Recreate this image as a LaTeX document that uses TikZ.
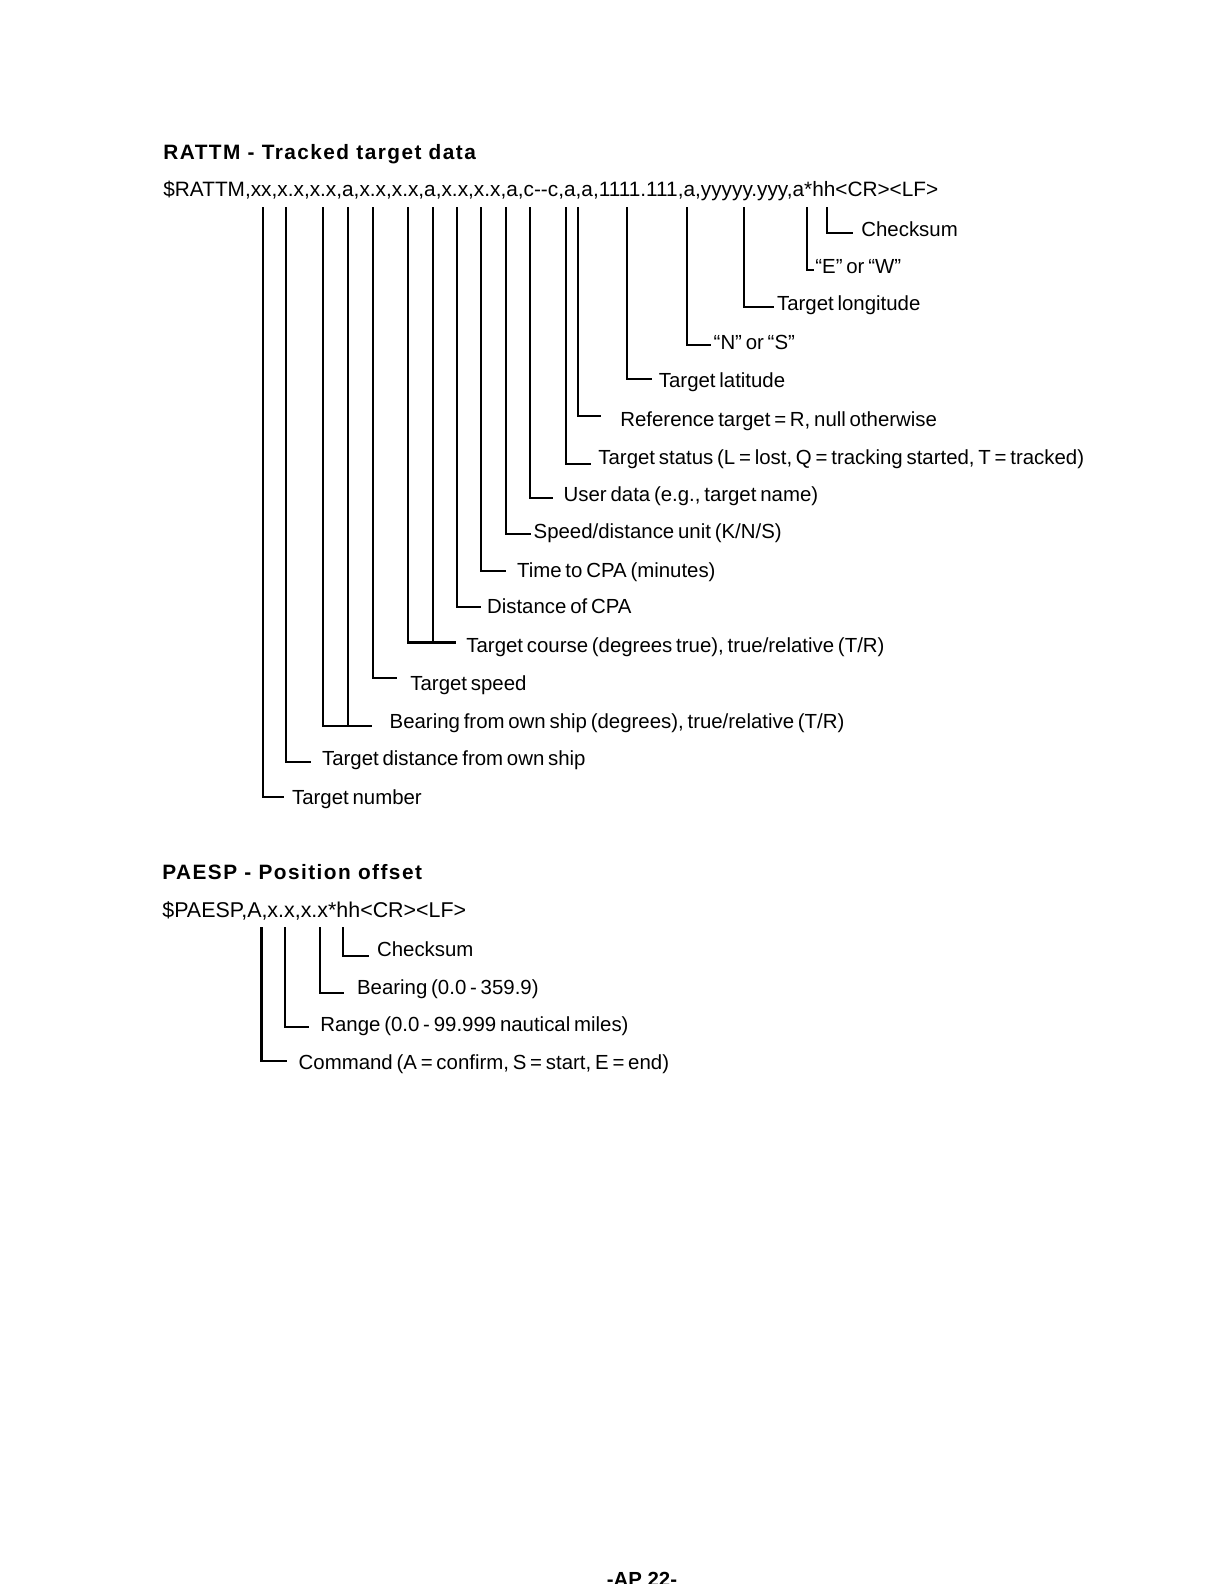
\documentclass[tikz,border=0pt]{standalone}
\usepackage{fontspec}
\setmainfont{Liberation Sans}
\newfontfamily\titlefont{Liberation Sans}[LetterSpace=7]
\newcommand\lblfont{\fontsize{10.2}{12}\selectfont\spaceskip 1.9pt plus 0.5pt\relax}
\begin{document}
\begin{tikzpicture}[x=0.5pt,y=-0.5pt,
  lbl/.style={anchor=west, inner sep=0pt, font=\lblfont},
  sent/.style={anchor=west, inner sep=0pt, font=\fontsize{10.4}{12}\selectfont},
  ttl/.style={anchor=west, inner sep=0pt, font=\fontsize{10.4}{12}\selectfont\titlefont\bfseries},
  lead/.style={line width=1.1pt, line cap=rect}]
\useasboundingbox (0,0) rectangle (1224,1584);

% ---------- RATTM ----------
\node[ttl] (t1) at (163,154) {RATTM - Tracked target data};
\node[sent] (s1) at (163,191) {\$RATTM,xx,x.x,x.x,a,x.x,x.x,a,x.x,x.x,a,c{-}{-}c,a,a,1111.111,a,yyyyy.yyy,a*hh<CR><LF>};

\node[lbl] (chk) at (861,229) {Checksum};
\node[lbl] (ew) at (815,267) {“E” or “W”};
\node[lbl] (lon) at (776.7,305) {Target longitude};
\node[lbl] (ns) at (713.3,342) {“N” or “S”};
\node[lbl] (lat) at (658.5,382) {Target latitude};
\node[lbl] (ref) at (620,421) {Reference target = R, null otherwise};
\node[lbl] (stat) at (598,459) {Target status (L = lost, Q = tracking started, T = tracked)};
\node[lbl] (user) at (563.3,496.5) {User data (e.g., target name)};
\node[lbl] (unit) at (533.3,533) {Speed/distance unit (K/N/S)};
\node[lbl] (tcpa) at (516.7,572) {Time to CPA (minutes)};
\node[lbl] (dcpa) at (486.7,606.7) {Distance of CPA};
\node[lbl] (course) at (466,647) {Target course (degrees true), true/relative (T/R)};
\node[lbl] (speed) at (410,685) {Target speed};
\node[lbl] (bear) at (389.3,723) {Bearing from own ship (degrees), true/relative (T/R)};
\node[lbl] (dist) at (321.7,760) {Target distance from own ship};
\node[lbl] (num) at (291.7,799) {Target number};

% tops and ends of leaders
\coordinate (chkT) at (826.7,208);   \coordinate (chkE) at (852,233.3);
\coordinate (ewT) at (806.7,208);    \coordinate (ewE) at (813,270);
\coordinate (lonT) at (744.3,208);   \coordinate (lonE) at (772.7,306.7);
\coordinate (nsT) at (686.7,208);    \coordinate (nsE) at (710,345);
\coordinate (latT) at (626.7,208);   \coordinate (latE) at (651,379);
\coordinate (refT) at (578.3,208);   \coordinate (refE) at (600,416);
\coordinate (statT) at (566,208);    \coordinate (statE) at (590,464);
\coordinate (userT) at (530,208);    \coordinate (userE) at (551.7,498);
\coordinate (unitT) at (505.7,208);  \coordinate (unitE) at (530,534);
\coordinate (tcpaT) at (480.7,208);  \coordinate (tcpaE) at (505,571);
\coordinate (dcpaT) at (457.3,208);  \coordinate (dcpaE) at (480,607);
\coordinate (courseT) at (408.3,208); \coordinate (courseU) at (432.7,208); \coordinate (courseE) at (455,642.5);
\coordinate (speedT) at (372.7,208); \coordinate (speedE) at (396,678);
\coordinate (bearT) at (322.7,208);  \coordinate (bearU) at (347.7,208); \coordinate (bearE) at (370.7,726);
\coordinate (distT) at (286,208);    \coordinate (distE) at (310,762);
\coordinate (numT) at (262.7,208);   \coordinate (numE) at (283,797);

\foreach \n in {chk,ew,lon,ns,lat,ref,stat,user,unit,tcpa,dcpa,course,speed,bear,dist,num}
  {\draw[lead] (\n T) |- (\n E);}
\draw[lead] (courseU) -- (courseU |- courseE);
\draw[lead] (bearU) -- (bearU |- bearE);

% ---------- PAESP ----------
\node[ttl] (t2) at (162,872) {PAESP - Position offset};
\node[sent, font=\fontsize{10.7}{12}\selectfont] (s2) at (162,911) {\$PAESP,A,x.x,x.x*hh<CR><LF>};

\node[lbl] (pchk) at (376.7,949) {Checksum};
\node[lbl] (pbear) at (356.7,989) {Bearing (0.0 - 359.9)};
\node[lbl] (prange) at (320,1026.5) {Range (0.0 - 99.999 nautical miles)};
\node[lbl] (pcmd) at (298.3,1064) {Command (A = confirm, S = start, E = end)};

\coordinate (pchkT) at (343.3,928);   \coordinate (pchkE) at (368,955.7);
\coordinate (pbearT) at (320,928);    \coordinate (pbearE) at (343,993.3);
\coordinate (prangeT) at (285.3,928); \coordinate (prangeE) at (308.3,1026.7);
\coordinate (pcmdT) at (261.5,928);   \coordinate (pcmdE) at (286,1060.7);

\foreach \n in {pchk,pbear,prange,pcmd}
  {\draw[lead] (\n T) |- (\n E);}

% ---------- page number ----------
\node[anchor=north, inner sep=0pt, font=\fontsize{10.2}{12}\selectfont\bfseries] (page) at (642,1572) {-AP 22-};
\end{tikzpicture}
\end{document}
